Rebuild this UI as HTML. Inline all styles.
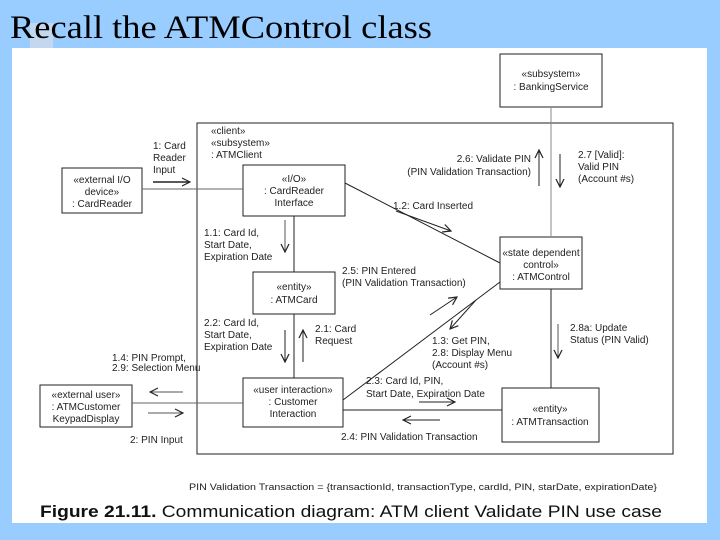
<!DOCTYPE html>
<html><head><meta charset="utf-8"><style>
html,body{margin:0;padding:0;}
body{width:720px;height:540px;background:#99ccff;position:relative;overflow:hidden;}
svg{position:absolute;left:0;top:0;}
text{font-family:"Liberation Sans",Arial,sans-serif;font-size:10px;fill:#222;}
</style></head><body>
<svg width="720" height="540" viewBox="0 0 720 540" xmlns="http://www.w3.org/2000/svg">
<defs>
<marker id="ah" markerWidth="10" markerHeight="10" refX="9" refY="5" orient="auto" markerUnits="userSpaceOnUse">
<path d="M1,1 L9,5 L1,9" fill="none" stroke="#222" stroke-width="1.2"/>
</marker>
</defs>
<rect x="12" y="48" width="695" height="475" fill="#fff"/>
<rect x="30" y="23" width="23" height="25" fill="#c3d8ef"/>
<text x="10" y="38" textLength="422" lengthAdjust="spacingAndGlyphs" style="font-family:'Liberation Serif',serif;font-size:33px;fill:#000">Recall the ATMControl class</text>

<g stroke="#222" stroke-width="1" fill="none">
<rect x="197" y="123" width="476" height="331"/>
<rect x="500" y="54" width="102" height="53" fill="#fff"/>
<rect x="62" y="168" width="80" height="45" fill="#fff"/>
<rect x="243" y="165" width="102" height="51" fill="#fff"/>
<rect x="253" y="272" width="82" height="42" fill="#fff"/>
<rect x="500" y="237" width="82" height="52" fill="#fff"/>
<rect x="40" y="385" width="92" height="42" fill="#fff"/>
<rect x="243" y="378" width="100" height="49" fill="#fff"/>
<rect x="502" y="388" width="97" height="54" fill="#fff"/>
<line x1="551" y1="107" x2="551" y2="237" stroke="#888"/>
<line x1="142" y1="189" x2="243" y2="189" stroke="#666"/>
<line x1="345" y1="183" x2="500" y2="263"/>
<line x1="294" y1="216" x2="294" y2="272"/>
<line x1="294" y1="314" x2="294" y2="378"/>
<line x1="132" y1="403" x2="243" y2="403" stroke="#666"/>
<line x1="343" y1="400" x2="500" y2="282"/>
<line x1="551" y1="289" x2="551" y2="388"/>
<line x1="343" y1="410" x2="502" y2="410"/>
<line x1="153" y1="182" x2="190" y2="182" marker-end="url(#ah)" stroke-width="1.5"/>
<line x1="539" y1="186" x2="539" y2="150" marker-end="url(#ah)"/>
<line x1="560" y1="154" x2="560" y2="187" marker-end="url(#ah)"/>
<line x1="396" y1="211" x2="451" y2="231" marker-end="url(#ah)"/>
<line x1="285" y1="220" x2="285" y2="252" marker-end="url(#ah)" stroke="#555"/>
<line x1="285" y1="330" x2="285" y2="362" marker-end="url(#ah)"/>
<line x1="303" y1="362" x2="303" y2="330" marker-end="url(#ah)"/>
<line x1="183" y1="392" x2="150" y2="392" marker-end="url(#ah)" stroke="#555"/>
<line x1="148" y1="413" x2="183" y2="413" marker-end="url(#ah)" stroke="#555"/>
<line x1="430" y1="315" x2="457" y2="297" marker-end="url(#ah)"/>
<line x1="476" y1="300" x2="450" y2="329" marker-end="url(#ah)"/>
<line x1="558" y1="324" x2="558" y2="358" marker-end="url(#ah)" stroke="#555"/>
<line x1="419" y1="402" x2="455" y2="402" marker-end="url(#ah)"/>
<line x1="440" y1="420" x2="403" y2="420" marker-end="url(#ah)"/>
</g>

<g text-anchor="middle">
<text x="551" y="77">«subsystem»</text>
<text x="551" y="90">: BankingService</text>
<text x="102" y="183">«external I/O</text>
<text x="102" y="195">device»</text>
<text x="102" y="207">: CardReader</text>
<text x="294" y="182">«I/O»</text>
<text x="294" y="194">: CardReader</text>
<text x="294" y="206">Interface</text>
<text x="294" y="290">«entity»</text>
<text x="294" y="303">: ATMCard</text>
<text x="541" y="256">«state dependent</text>
<text x="541" y="268">control»</text>
<text x="541" y="280">: ATMControl</text>
<text x="86" y="398">«external user»</text>
<text x="86" y="410">: ATMCustomer</text>
<text x="86" y="422">KeypadDisplay</text>
<text x="293" y="393">«user interaction»</text>
<text x="293" y="405">: Customer</text>
<text x="293" y="417">Interaction</text>
<text x="550" y="412">«entity»</text>
<text x="550" y="425">: ATMTransaction</text>
</g>

<text x="211" y="134">«client»</text>
<text x="211" y="146">«subsystem»</text>
<text x="211" y="158">: ATMClient</text>
<text x="153" y="149">1: Card</text>
<text x="153" y="161">Reader</text>
<text x="153" y="173">Input</text>
<text x="531" y="162" text-anchor="end">2.6: Validate PIN</text>
<text x="531" y="175" text-anchor="end">(PIN Validation Transaction)</text>
<text x="578" y="158">2.7 [Valid]:</text>
<text x="578" y="170">Valid PIN</text>
<text x="578" y="182">(Account #s)</text>
<text x="393" y="209">1.2: Card Inserted</text>
<text x="204" y="236">1.1: Card Id,</text>
<text x="204" y="248">Start Date,</text>
<text x="204" y="260">Expiration Date</text>
<text x="342" y="274">2.5: PIN Entered</text>
<text x="342" y="286">(PIN Validation Transaction)</text>
<text x="204" y="326">2.2: Card Id,</text>
<text x="204" y="338">Start Date,</text>
<text x="204" y="350">Expiration Date</text>
<text x="315" y="332">2.1: Card</text>
<text x="315" y="344">Request</text>
<text x="112" y="361">1.4: PIN Prompt,</text>
<text x="112" y="371">2.9: Selection Menu</text>
<text x="432" y="344">1.3: Get PIN,</text>
<text x="432" y="356">2.8: Display Menu</text>
<text x="432" y="368">(Account #s)</text>
<text x="570" y="331">2.8a: Update</text>
<text x="570" y="343">Status (PIN Valid)</text>
<text x="366" y="384">2.3: Card Id, PIN,</text>
<text x="366" y="397">Start Date, Expiration Date</text>
<text x="341" y="440">2.4: PIN Validation Transaction</text>
<text x="130" y="443">2: PIN Input</text>

<text x="189" y="490" textLength="468" lengthAdjust="spacingAndGlyphs" style="font-size:9px">PIN Validation Transaction = {transactionId, transactionType, cardId, PIN, starDate, expirationDate}</text>
<text x="40" y="517" textLength="622" lengthAdjust="spacingAndGlyphs" style="font-size:17px;fill:#111"><tspan font-weight="bold">Figure 21.11.</tspan> Communication diagram: ATM client Validate PIN use case</text>
</svg>
</body></html>
